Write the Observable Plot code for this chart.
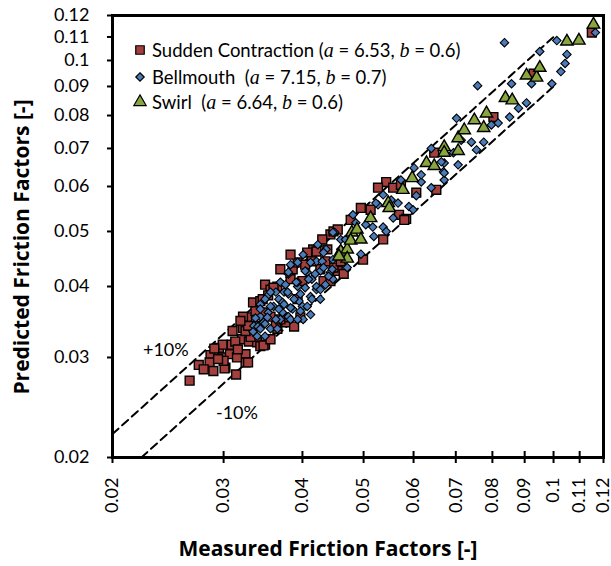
<!DOCTYPE html>
<html><head><meta charset="utf-8">
<script src="https://cdn.jsdelivr.net/npm/d3@7"></script>
<script src="https://cdn.jsdelivr.net/npm/@observablehq/plot@0.6"></script>
<style>
html,body{margin:0;padding:0;background:#fff;}
#chart{position:relative;width:611px;height:566px;}
</style></head><body><div id="chart"></div>
<script>
const tickValues = [0.02,0.03,0.04,0.05,0.06,0.07,0.08,0.09,0.1,0.11,0.12];
const tickLabels = ["0.02","0.03","0.04","0.05","0.06","0.07","0.08","0.09","0.1","0.11","0.12"];

const seriesNames = ["Sudden Contraction","Bellmouth","Swirl"];
const seriesA = ["6.53","7.15","6.64"];
const seriesB = ["0.6","0.7","0.6"];

const suddenX = [0.0265,0.0274,0.0286,0.0285,0.0289,0.0295,0.0299,0.0298,0.0307,0.0309,0.0302,0.0314,0.0325,0.0325,0.0310,0.0321,0.0313,0.0322,0.0329,0.0339,0.0327,0.0335,0.0315,0.0301,0.0343,0.0349,0.0331,0.0346,0.0334,0.0343,0.0325,0.0336,0.0349,0.0365,0.0376,0.0365,0.0356,0.0347,0.0328,0.0322,0.0328,0.0356,0.0360,0.0386,0.0383,0.0416,0.0421,0.0443,0.0455,0.0465,0.0393,0.0427,0.0448,0.0346,0.0393,0.0407,0.0432,0.0443,0.0414,0.0388,0.0363,0.0369,0.0543,0.0527,0.0557,0.0495,0.0513,0.0569,0.0584,0.0606,0.0652,0.0647,0.0537,0.0455,0.0438,0.0573,0.0803,0.0930,0.1150,0.0499,0.0448,0.0580,0.0290,
  0.0337,0.0353,0.0374,0.0397,0.0400,0.0383,0.0430,0.0460,0.0404,0.0435,0.0477,0.0316,0.0300,0.0279,0.0294,0.0319,0.0356,0.0369];
const suddenY = [0.0273,0.0291,0.0303,0.0294,0.0284,0.0312,0.0316,0.0300,0.0304,0.0316,0.0288,0.0280,0.0304,0.0294,0.0334,0.0323,0.0320,0.0338,0.0320,0.0319,0.0353,0.0341,0.0300,0.0287,0.0314,0.0316,0.0326,0.0360,0.0375,0.0377,0.0334,0.0341,0.0403,0.0400,0.0346,0.0337,0.0354,0.0315,0.0294,0.0354,0.0341,0.0395,0.0398,0.0429,0.0412,0.0465,0.0461,0.0494,0.0426,0.0421,0.0380,0.0429,0.0500,0.0380,0.0441,0.0459,0.0409,0.0409,0.0443,0.0340,0.0341,0.0429,0.0611,0.0597,0.0597,0.0550,0.0546,0.0535,0.0526,0.0585,0.0592,0.0688,0.0484,0.0504,0.0465,0.0604,0.0795,0.0948,0.1120,0.0446,0.0432,0.0524,0.0311,
  0.0362,0.0386,0.0353,0.0353,0.0409,0.0455,0.0484,0.0443,0.0437,0.0443,0.0524,0.0310,0.0296,0.0286,0.0298,0.0348,0.0323,0.0350];

const bellX = [0.0343,0.0353,0.0360,0.0367,0.0372,0.0347,0.0356,0.0339,0.0363,0.0374,0.0352,0.0343,0.0335,0.0343,0.0356,0.0380,0.0393,0.0404,0.0412,0.0421,0.0400,0.0386,0.0393,0.0407,0.0380,0.0393,0.0404,0.0421,0.0430,0.0436,0.0450,0.0447,0.0427,0.0414,0.0367,0.0380,0.0352,0.0407,0.0372,0.0412,0.0443,0.0471,0.0468,0.0481,0.0334,0.0340,0.0356,0.0379,0.0383,0.0395,0.0391,0.0409,0.0414,0.0421,0.0380,0.0432,0.0432,0.0440,0.0446,0.0369,0.0383,0.0397,0.0349,0.0369,0.0365,0.0401,0.0427,0.0447,0.0640,0.0671,0.0669,0.0706,0.0671,0.0640,0.0601,0.0617,0.0573,0.0590,0.0599,0.0567,0.0527,0.0557,0.0537,0.0543,0.0519,0.0486,0.0447,0.0460,0.0495,0.0694,0.0836,0.1012,0.1050,0.1043,0.0951,0.1027,0.0994,0.0923,0.0858,0.0758,0.0906,0.0880,0.0852,0.0817,0.0702,0.0741,0.0775,0.0755,0.0671,0.0664,0.1165,0.0606,0.0537,0.0523,0.0517,
  0.0337,0.0349,0.0376,0.0388,0.0397,0.0363,0.0419,0.0435,0.0383,0.0401,0.0423,0.0460,0.0349,0.0374,0.0393,0.0412,0.0343,0.0427,0.0468,0.0504,0.0553,0.0617,0.0714,0.0797];
const bellY = [0.0372,0.0360,0.0369,0.0380,0.0360,0.0346,0.0337,0.0327,0.0391,0.0391,0.0385,0.0354,0.0341,0.0365,0.0369,0.0388,0.0400,0.0398,0.0384,0.0395,0.0369,0.0365,0.0407,0.0424,0.0421,0.0441,0.0426,0.0443,0.0443,0.0465,0.0498,0.0412,0.0426,0.0412,0.0365,0.0354,0.0353,0.0369,0.0375,0.0441,0.0424,0.0432,0.0446,0.0535,0.0333,0.0340,0.0391,0.0391,0.0367,0.0377,0.0407,0.0412,0.0380,0.0400,0.0424,0.0432,0.0459,0.0417,0.0429,0.0350,0.0350,0.0362,0.0327,0.0407,0.0337,0.0350,0.0395,0.0446,0.0700,0.0660,0.0637,0.0655,0.0616,0.0597,0.0647,0.0611,0.0616,0.0553,0.0546,0.0561,0.0557,0.0528,0.0509,0.0500,0.0490,0.0518,0.0498,0.0484,0.0456,0.0688,0.1075,0.1084,0.1025,0.0988,0.1037,0.0956,0.0910,0.0910,0.0910,0.0903,0.0842,0.0824,0.0795,0.0776,0.0791,0.0718,0.0718,0.0696,0.0634,0.0663,0.1120,0.0578,0.0580,0.0561,0.0509,
  0.0352,0.0380,0.0403,0.0380,0.0388,0.0350,0.0421,0.0403,0.0437,0.0455,0.0474,0.0465,0.0344,0.0372,0.0350,0.0357,0.0337,0.0380,0.0484,0.0514,0.0568,0.0629,0.0724,0.0770];

const swirlX = [0.0460,0.0471,0.0471,0.0457,0.0479,0.0488,0.0477,0.0495,0.0513,0.0547,0.0549,0.0577,0.0597,0.0629,0.0647,0.0671,0.0671,0.0706,0.0706,0.0722,0.0775,0.0749,0.0783,0.0839,0.0860,0.0906,0.0940,0.0951,0.1050,0.1097,0.1157];
const swirlY = [0.0461,0.0465,0.0448,0.0452,0.0498,0.0504,0.0482,0.0484,0.0528,0.0561,0.0550,0.0592,0.0621,0.0660,0.0652,0.0704,0.0688,0.0693,0.0730,0.0754,0.0761,0.0785,0.0807,0.0859,0.0851,0.0941,0.0933,0.0971,0.1080,0.1084,0.1157];

const upperLineX = [0.02, 0.1];
const upperLineY = [0.022, 0.11];
const lowerLineX = [0.02222, 0.1];
const lowerLineY = [0.02, 0.09];
const bandLabels = ["+10%", "-10%"];
const bandLabelX = [0.0243, 0.0315];
const bandLabelY = [0.0309, 0.0239];

const colors = ["#A33F3C", "#4A7CB9", "#88A53E"];

const toPts = (xs, ys) => xs.map((x, i) => ({x, y: ys[i]}));
const fmt = d => tickLabels[tickValues.indexOf(d)];

const plot = Plot.plot({
  width: 611, height: 566,
  marginLeft: 112, marginRight: 8, marginTop: 15, marginBottom: 109,
  style: {fontFamily: "Lato, sans-serif", fontSize: "18px", color: "#000", background: "#fff", overflow: "visible"},
  x: {type: "log", domain: [0.02, 0.12]},
  y: {type: "log", domain: [0.02, 0.12]},
  marks: [
    Plot.line(toPts(upperLineX, upperLineY), {x: "x", y: "y", stroke: "black", strokeWidth: 2, strokeDasharray: "8,5", clip: true}),
    Plot.line(toPts(lowerLineX, lowerLineY), {x: "x", y: "y", stroke: "black", strokeWidth: 2, strokeDasharray: "8,5", clip: true}),
    Plot.text(bandLabels.map((t, i) => ({t, x: bandLabelX[i], y: bandLabelY[i]})), {x: "x", y: "y", text: "t", fontSize: 18, fill: "black"}),
    Plot.dot(toPts(suddenX, suddenY), {x: "x", y: "y", symbol: "square", r: 5, fill: colors[0], stroke: "black", strokeWidth: 1.4}),
    Plot.dot(toPts(bellX, bellY), {x: "x", y: "y", symbol: "diamond2", r: 3.8, fill: colors[1], stroke: "black", strokeWidth: 1.1}),
    Plot.dot(toPts(swirlX, swirlY), {x: "x", y: "y", symbol: "triangle", r: 4.6, fill: colors[2], stroke: "black", strokeWidth: 1.4}),
    Plot.tickX(tickValues, {x: d => d, insetTop: 436, stroke: "black", strokeWidth: 2}),
    Plot.axisX({ticks: tickValues, tickFormat: fmt, tickRotate: -90, tickSize: 6, tickPadding: 14, strokeWidth: 2, label: null, fontSize: 18}),
    Plot.axisY({ticks: tickValues, tickFormat: fmt, tickSize: 5, tickPadding: 18, strokeWidth: 2, label: null, fontSize: 18}),
    Plot.frame({stroke: "black", strokeWidth: 3})
  ]
});

const svg = d3.select(plot);
svg.append("text").attr("x", 328).attr("y", 556).attr("text-anchor", "middle")
  .attr("font-weight", "bold").attr("font-size", 21).attr("font-family", "'Open Sans', sans-serif")
  .text("Measured Friction Factors [-]");
svg.append("text").attr("transform", "translate(29,247) rotate(-90)").attr("text-anchor", "middle")
  .attr("font-weight", "bold").attr("font-size", 21).attr("font-family", "'Open Sans', sans-serif")
  .text("Predicted Friction Factors [-]");

const symbols = [d3.symbol(d3.symbolSquare, 72), d3.symbol(d3.symbolDiamond2, 45), d3.symbol(d3.symbolTriangle, 66)];
const rowY = [50, 77, 102];
const gap = ["", " ", " "];
seriesNames.forEach((name, i) => {
  svg.append("path").attr("d", symbols[i]()).attr("transform", `translate(140,${rowY[i]})`)
    .attr("fill", colors[i]).attr("stroke", "black").attr("stroke-width", 1.2);
  const t = svg.append("text").attr("x", 152).attr("y", rowY[i] + 6.5).attr("text-anchor", "start")
    .attr("font-family", "Lato, sans-serif").attr("font-size", 18.5).attr("fill", "black");
  t.append("tspan").text(name + gap[i] + " (");
  t.append("tspan").attr("font-family", "'Liberation Serif', serif").attr("font-style", "italic").attr("font-size", 20).text("a");
  t.append("tspan").text(" = " + seriesA[i] + ", ");
  t.append("tspan").attr("font-family", "'Liberation Serif', serif").attr("font-style", "italic").attr("font-size", 20).text("b");
  t.append("tspan").text(" = " + seriesB[i] + ")");
});

document.getElementById("chart").appendChild(plot);
</script></body></html>
